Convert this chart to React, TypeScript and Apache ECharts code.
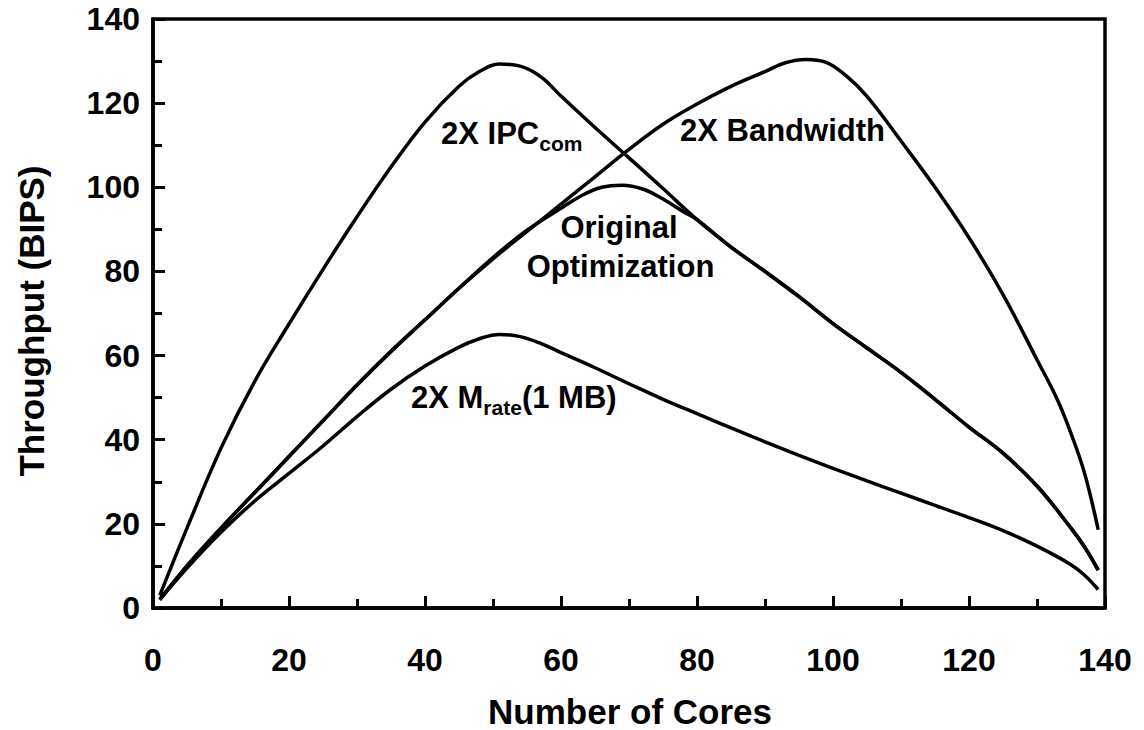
import React, { useEffect, useRef } from "react";
import * as echarts from "echarts";

// ---- Data ----
const coresIPC = [1, 5, 10, 15, 20, 25, 30, 35, 40, 45, 48, 51, 54, 57, 60, 65, 70, 75, 80, 85, 90, 95, 100, 105, 110, 115, 120, 125, 130, 135, 137, 139];
const throughputIPC = [3, 19, 38, 54, 67.5, 80.5, 93, 104.8, 115.5, 124, 127.5, 129.3, 128.8, 126.3, 121.7, 114.2, 107, 99.7, 92.3, 85.8, 80, 74, 67.6, 61.8, 56, 49.6, 43, 36.8, 29, 19, 14.5, 9];

const coresBandwidth = [1, 5, 10, 15, 20, 25, 30, 35, 40, 45, 50, 55, 60, 65, 70, 75, 80, 85, 90, 93, 96, 99, 102, 105, 110, 115, 120, 125, 130, 133, 135, 137, 139];
const throughputBandwidth = [2, 10, 19, 27.5, 36, 44.5, 53, 61, 68.5, 76, 83, 89.5, 96, 102.5, 109, 115, 119.8, 124, 127.5, 129.6, 130.4, 129.7, 126.4, 121.6, 111, 100, 88, 74.5, 59, 49.5, 41.5, 32, 18.6];

const coresOriginal = [1, 5, 10, 15, 20, 25, 30, 35, 40, 45, 50, 55, 60, 63, 66, 69, 72, 75, 78, 80, 85, 90, 95, 100, 105, 110, 115, 120, 125, 130, 135, 137, 139];
const throughputOriginal = [2, 10, 19, 27.5, 36, 44.5, 53, 61, 68.5, 76, 83.3, 89.8, 95, 98, 100, 100.5, 99.6, 97.2, 94.2, 92.3, 85.8, 80, 74, 67.6, 61.8, 56, 49.6, 43, 36.8, 29, 19, 14.5, 9];

const coresMrate = [1, 5, 10, 15, 20, 25, 30, 35, 40, 45, 48, 51, 54, 57, 60, 65, 70, 75, 80, 85, 90, 95, 100, 105, 110, 115, 120, 125, 130, 135, 137, 139];
const throughputMrate = [2, 9.5, 18, 25.5, 32, 38.5, 45.5, 52, 57.5, 62, 64, 65, 64.5, 62.9, 60.7, 57.1, 53.3, 49.6, 46.2, 42.8, 39.5, 36.3, 33.2, 30.2, 27.3, 24.4, 21.5, 18.4, 14.7, 10.3, 7.8, 4.4];

const X_MIN = 0;
const X_MAX = 140;
const X_STEP = 20;
const Y_MIN = 0;
const Y_MAX = 140;
const Y_STEP = 20;

const xTitle = "Number of Cores";
const yTitle = "Throughput (BIPS)";

// ---- Styles ----
const FONT = '"Liberation Sans", Arial, Helvetica, sans-serif';
const INK = "#000";

function zip(xs: number[], ys: number[]) {
  return xs.map((x, i) => [x, ys[i]]);
}

function measure(text: string, size: number) {
  const c = document.createElement("canvas").getContext("2d");
  if (!c) return text.length * size * 0.6;
  c.font = `bold ${size}px ${FONT}`;
  return c.measureText(text).width;
}

function txt(text: string, x: number, y: number, size: number, align = "left", rotation = 0) {
  return {
    type: "text",
    x,
    y,
    rotation,
    z: 10,
    style: {
      text,
      fill: INK,
      fontSize: size,
      fontWeight: "bold",
      fontFamily: FONT,
      align,
      verticalAlign: "middle",
      textAlign: align,
      textVerticalAlign: "middle",
    },
  };
}

export default function App() {
  const ref = useRef<HTMLDivElement>(null);

  useEffect(() => {
    if (!ref.current) return;
    const chart = echarts.init(ref.current, null, { renderer: "svg" });

    const LBL = 31;
    const SUB = 21;

    const ipcMainX = 441;
    const ipcMain = "2X IPC";
    const mX = 411;
    const m1 = "2X M";
    const m2 = "rate";
    const m3 = "(1 MB)";
    const w1 = measure(m1, LBL);
    const w2 = measure(m2, SUB);

    const graphics = [
      txt(ipcMain, ipcMainX, 133, LBL),
      txt("com", ipcMainX + measure(ipcMain, LBL), 143, SUB),
      txt("2X Bandwidth", 680, 130, LBL),
      txt("Original", 619, 227.5, LBL, "center"),
      txt("Optimization", 620.5, 266, LBL, "center"),
      txt(m1, mX, 397, LBL),
      txt(m2, mX + w1, 407, SUB),
      txt(m3, mX + w1 + w2, 397, LBL),
      txt(xTitle, 630, 711, 35, "center"),
      txt(yTitle, 31, 321, 35, "center", Math.PI / 2),
    ];

    const lineSeries = (name: string, xs: number[], ys: number[]) => ({
      name,
      type: "line",
      data: zip(xs, ys),
      smooth: 0.4,
      showSymbol: false,
      symbol: "none",
      lineStyle: { color: INK, width: 3.5 },
      emphasis: { disabled: true },
    });

    chart.setOption({
      animation: false,
      backgroundColor: "#fff",
      grid: {
        left: 153,
        right: 39,
        top: 19,
        bottom: 122,
        show: true,
        borderColor: INK,
        borderWidth: 3.5,
        backgroundColor: "transparent",
      },
      xAxis: {
        type: "value",
        min: X_MIN,
        max: X_MAX,
        interval: X_STEP,
        axisLine: { show: true, lineStyle: { color: INK, width: 3.5 } },
        axisTick: { show: true, inside: true, length: 12, lineStyle: { color: INK, width: 3 } },
        minorTick: { show: true, splitNumber: 2, length: 9, lineStyle: { color: INK, width: 3 } },
        splitLine: { show: false },
        minorSplitLine: { show: false },
        axisLabel: { color: INK, fontSize: 32, fontWeight: "bold", fontFamily: FONT, margin: 36 },
      },
      yAxis: {
        type: "value",
        min: Y_MIN,
        max: Y_MAX,
        interval: Y_STEP,
        axisLine: { show: true, lineStyle: { color: INK, width: 3.5 } },
        axisTick: { show: true, inside: true, length: 12, lineStyle: { color: INK, width: 3 } },
        minorTick: { show: true, splitNumber: 2, length: 9, lineStyle: { color: INK, width: 3 } },
        splitLine: { show: false },
        minorSplitLine: { show: false },
        axisLabel: { color: INK, fontSize: 32, fontWeight: "bold", fontFamily: FONT, margin: 13 },
      },
      series: [
        lineSeries("2X IPCcom", coresIPC, throughputIPC),
        lineSeries("2X Bandwidth", coresBandwidth, throughputBandwidth),
        lineSeries("Original Optimization", coresOriginal, throughputOriginal),
        lineSeries("2X Mrate(1 MB)", coresMrate, throughputMrate),
      ],
      graphic: graphics,
    });

    return () => chart.dispose();
  }, []);

  return (
    <div
      ref={ref}
      style={{ position: "fixed", left: 0, top: 0, width: 1144, height: 730, background: "#fff" }}
    />
  );
}
